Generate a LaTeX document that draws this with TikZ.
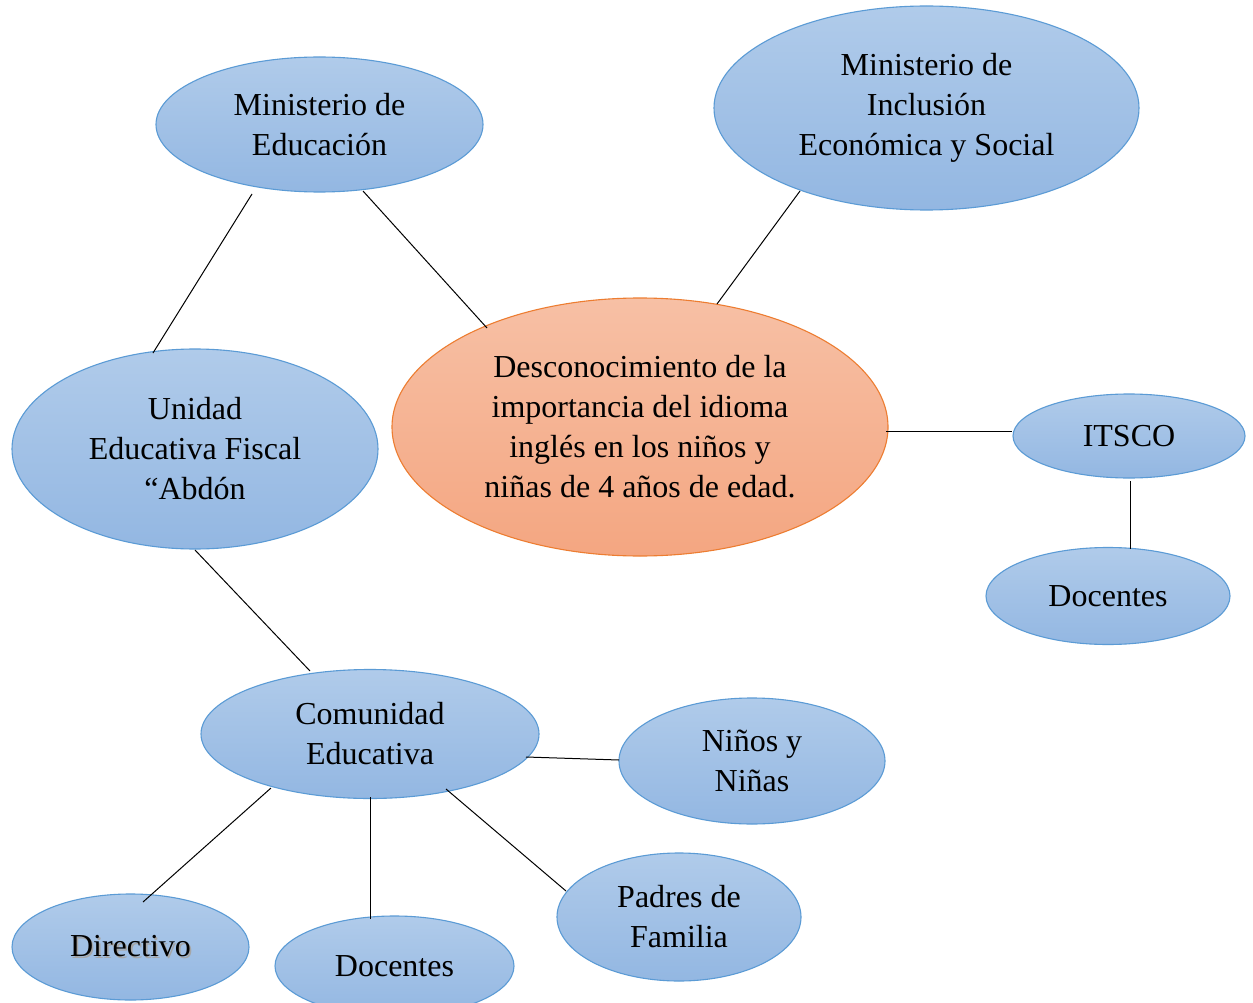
\documentclass[tikz,border=0pt]{standalone}
\usepackage{fontspec}
\setmainfont{Liberation Serif}
\usetikzlibrary{shapes.geometric}
\definecolor{bluetop}{RGB}{176,203,234}
\definecolor{bluebot}{RGB}{147,183,226}
\definecolor{blueedge}{RGB}{91,155,213}
\definecolor{orangetop}{RGB}{247,192,165}
\definecolor{orangebot}{RGB}{244,166,129}
\definecolor{orangeedge}{RGB}{237,125,49}
\newcommand\shadtext[1]{\makebox[0pt][l]{\hspace{1.6pt}\raisebox{-1.6pt}{\textcolor{black!35}{#1}}}#1}
\tikzset{
  bub/.style={ellipse, draw=blueedge, line width=1.1pt, top color=bluetop, bottom color=bluebot,
    inner sep=0pt, align=center, font=\fontsize{32}{40}\selectfont},
  core/.style={ellipse, draw=orangeedge, line width=1.1pt, top color=orangetop, bottom color=orangebot,
    inner sep=0pt, align=center, font=\fontsize{32}{40}\selectfont},
  link/.style={draw=black, line width=1pt}
}
\begin{document}
\begin{tikzpicture}[x=1pt,y=-1pt]
\useasboundingbox (0,0) rectangle (1253,1003);
\fill[white] (0,0) rectangle (1253,1003);

% lines first (behind ellipses)
\coordinate (a1) at (252,194); \coordinate (a2) at (153,353);
\coordinate (b1) at (363,191); \coordinate (b2) at (487,328);
\coordinate (c1) at (800,191); \coordinate (c2) at (717,304);
\coordinate (d1) at (886,431); \coordinate (d2) at (1012,431);
\coordinate (e1) at (1130,481); \coordinate (e2) at (1130,549);
\coordinate (f1) at (195,550); \coordinate (f2) at (310,671);
\coordinate (g1) at (526,757); \coordinate (g2) at (619,760);
\coordinate (h1) at (271,788); \coordinate (h2) at (143,902);
\coordinate (i1) at (370,797); \coordinate (i2) at (370,919);
\coordinate (j1) at (446,789); \coordinate (j2) at (566,891);

\node[bub, minimum width=327pt, minimum height=135pt] (minedu) at (319.5,124.5) {Ministerio de\\Educación};
\node[bub, minimum width=425pt, minimum height=204pt] (mies) at (926.5,108) {Ministerio de\\Inclusión\\Económica y Social};
\node[core, minimum width=496pt, minimum height=258pt] (central) at (640,427) {Desconocimiento de la\\importancia del idioma\\inglés en los niños y\\niñas de 4 años de edad.};
\node[bub, minimum width=366pt, minimum height=200pt] (unidad) at (195,449) {Unidad\\Educativa Fiscal\\“Abdón};
\node[bub, minimum width=232pt, minimum height=84pt] (itsco) at (1129,436) {ITSCO};
\node[bub, minimum width=244pt, minimum height=97pt] (docr) at (1108,596) {Docentes};
\node[bub, minimum width=338pt, minimum height=129pt] (comu) at (370,734) {Comunidad\\Educativa};
\node[bub, minimum width=266pt, minimum height=126pt] (ninos) at (752,761) {Niños y\\Niñas};
\node[bub, minimum width=244pt, minimum height=128pt] (padres) at (679,917) {Padres de\\Familia};
\node[bub, minimum width=237pt, minimum height=106pt] (direc) at (130.5,947) {\shadtext{Directivo}};
\node[bub, minimum width=239pt, minimum height=100pt] (docb) at (394.5,966) {Docentes};

\draw[link] (a1) -- (a2);
\draw[link] (b1) -- (b2);
\draw[link] (c1) -- (c2);
\draw[link] (d1) -- (d2);
\draw[link] (e1) -- (e2);
\draw[link] (f1) -- (f2);
\draw[link] (g1) -- (g2);
\draw[link] (h1) -- (h2);
\draw[link] (i1) -- (i2);
\draw[link] (j1) -- (j2);
\end{tikzpicture}
\end{document}
